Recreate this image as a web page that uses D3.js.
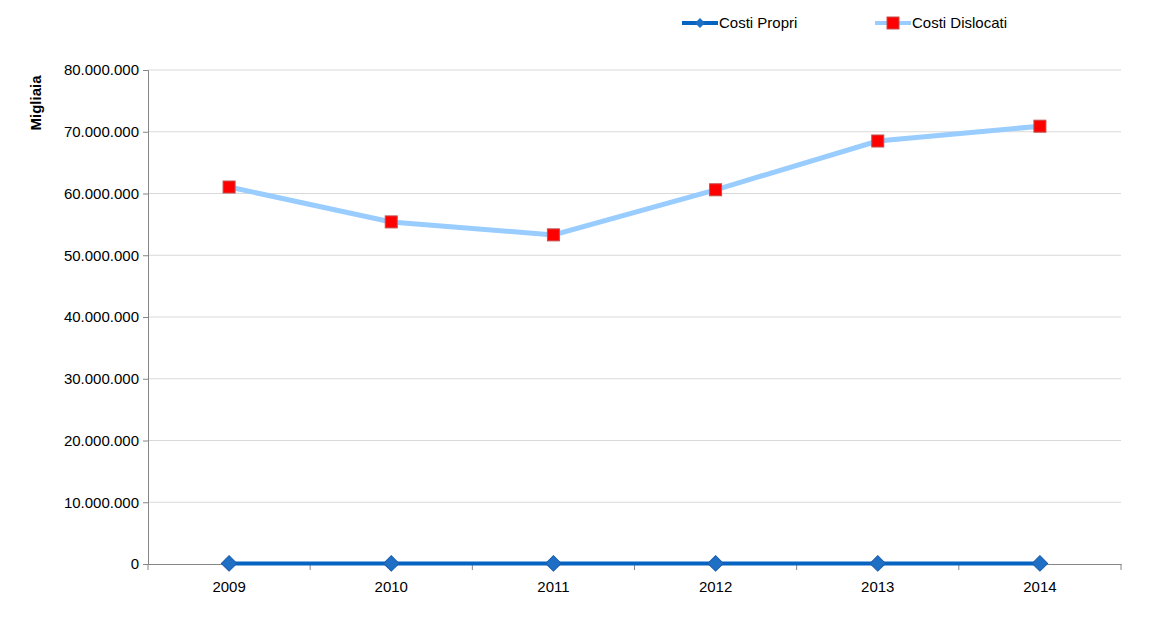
<!DOCTYPE html>
<html><head><meta charset="utf-8">
<script src="https://cdn.jsdelivr.net/npm/d3@7"></script>
<style>body{margin:0;background:#fff;font-family:"Liberation Sans",Arial,sans-serif;}</style>
</head><body><svg id="c" width="1152" height="619"></svg>
<script>
const categories = ["2009","2010","2011","2012","2013","2014"];
const costiPropri = [100000,100000,100000,100000,100000,100000];
const costiDislocati = [61050000,55400000,53300000,60600000,68500000,70900000];
const yTicks = [0,10000000,20000000,30000000,40000000,50000000,60000000,70000000,80000000];
const seriesNames = ["Costi Propri","Costi Dislocati"];

const svg = d3.select("#c");
const m = {l:148, r:1121, t:70, b:564};
const x = d3.scaleBand().domain(categories).range([m.l, m.r]);
const y = d3.scaleLinear().domain([0,80000000]).range([m.b, m.t]);
const fmt = v => d3.format(",")(v).replace(/,/g,".");
const FONT = "Liberation Sans, Arial, sans-serif";

// gridlines
svg.append("g").selectAll("line").data(yTicks.filter(d=>d>0)).join("line")
  .attr("x1",m.l).attr("x2",m.r).attr("y1",d=>y(d)).attr("y2",d=>y(d))
  .attr("stroke","#d9d9d9").attr("stroke-width",1);

// y axis
const ya = svg.append("g").attr("transform",`translate(${m.l},0)`)
  .call(d3.axisLeft(y).tickValues(yTicks).tickFormat(fmt).tickSize(5).tickPadding(4));
ya.select(".domain").attr("stroke","#868686");
ya.selectAll(".tick line").attr("stroke","#868686");
ya.selectAll("text").attr("font-size",15).attr("fill","#000").attr("font-family",FONT);

// x axis
const xa = svg.append("g").attr("transform",`translate(0,${m.b})`)
  .call(d3.axisBottom(x).tickSize(0).tickPadding(17));
xa.select(".domain").attr("stroke","#868686");
xa.selectAll("text").attr("font-size",15).attr("fill","#000").attr("font-family",FONT);
const bounds = categories.map(c=>x(c)).concat([x(categories[categories.length-1])+x.bandwidth()]);
svg.append("g").selectAll("line").data(bounds).join("line")
  .attr("x1",d=>d).attr("x2",d=>d).attr("y1",m.b).attr("y2",m.b+6).attr("stroke","#868686");

// axis title
svg.append("text").attr("transform","translate(41,103) rotate(-90)").attr("text-anchor","middle")
  .attr("font-weight","bold").attr("font-size",15).attr("font-family",FONT).text("Migliaia");

const cx = c => x(c)+x.bandwidth()/2;
const line = d3.line().x((d,i)=>cx(categories[i])).y(d=>y(d));

// Costi Dislocati
svg.append("path").datum(costiDislocati).attr("d",line).attr("fill","none")
  .attr("stroke","#99ccff").attr("stroke-width",5);
svg.append("g").selectAll("rect").data(costiDislocati).join("rect")
  .attr("x",(d,i)=>cx(categories[i])-6).attr("y",d=>y(d)-6).attr("width",12).attr("height",12)
  .attr("fill","#ff0000").attr("stroke","#c0504d").attr("stroke-width",1);

// Costi Propri
svg.append("path").datum(costiPropri).attr("d",line).attr("fill","none")
  .attr("stroke","#0563c1").attr("stroke-width",4);
const diamond = d3.symbol().type(d3.symbolSquare).size(121);
svg.append("g").selectAll("path").data(costiPropri).join("path")
  .attr("d",diamond).attr("transform",(d,i)=>`translate(${cx(categories[i])},${y(d)}) rotate(45)`)
  .attr("fill","#1f6fc5").attr("stroke","#1a5fb0");

// legend
const lg = svg.append("g");
const leg = [{x:682,name:seriesNames[0]},{x:875,name:seriesNames[1]}];
lg.append("line").attr("x1",leg[0].x).attr("x2",leg[0].x+36).attr("y1",23).attr("y2",23).attr("stroke","#0563c1").attr("stroke-width",4);
lg.append("path").attr("d",d3.symbol().type(d3.symbolSquare).size(50)).attr("transform",`translate(${leg[0].x+18},23) rotate(45)`).attr("fill","#1f6fc5");
lg.append("line").attr("x1",leg[1].x).attr("x2",leg[1].x+36).attr("y1",23).attr("y2",23).attr("stroke","#99ccff").attr("stroke-width",4);
lg.append("rect").attr("x",leg[1].x+12).attr("y",17).attr("width",12).attr("height",12).attr("fill","#ff0000").attr("stroke","#c0504d");
leg.forEach(l=>{
  lg.append("text").attr("x",l.x+37).attr("y",28).attr("font-size",15).attr("font-family",FONT).text(l.name);
});
</script></body></html>
